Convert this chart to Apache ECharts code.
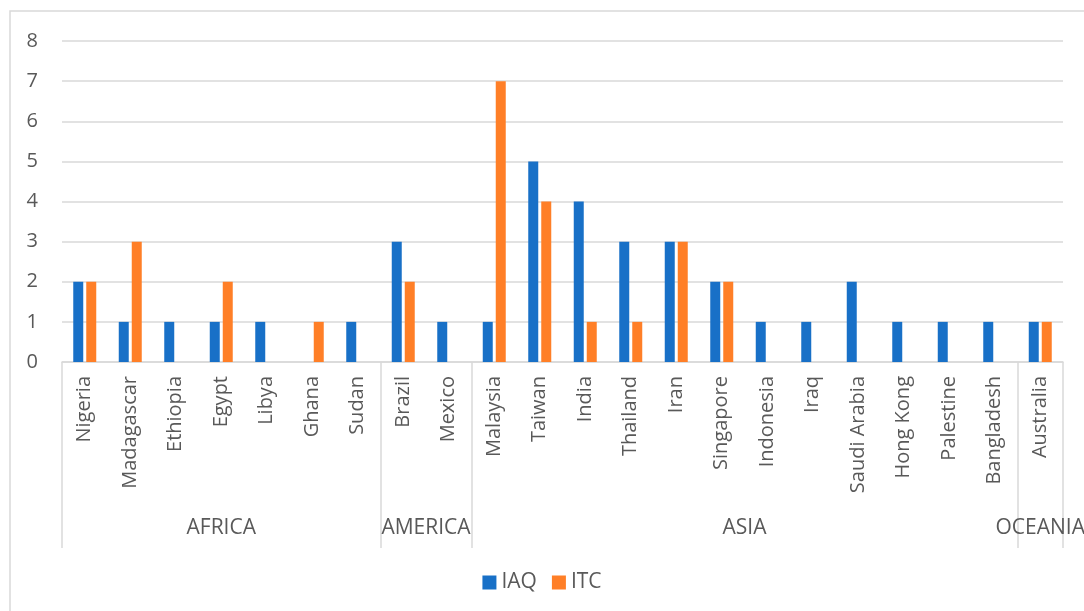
<!DOCTYPE html>
<html>
<head>
<meta charset="utf-8">
<script src="https://cdn.jsdelivr.net/npm/echarts@6/dist/echarts.min.js"></script>
<style>
  html, body { margin: 0; padding: 0; background: #fff; }
  #chart { width: 1084px; height: 611px; }
</style>
</head>
<body>
<div id="chart"></div>
<script>
var countries = ['Nigeria', 'Madagascar', 'Ethiopia', 'Egypt', 'Libya', 'Ghana', 'Sudan',
  'Brazil', 'Mexico',
  'Malaysia', 'Taiwan', 'India', 'Thailand', 'Iran', 'Singapore', 'Indonesia', 'Iraq',
  'Saudi Arabia', 'Hong Kong', 'Palestine', 'Bangladesh',
  'Australia']
var regions = ['AFRICA', 'AMERICA', 'ASIA', 'OCEANIA']
var regionSizes = [7, 2, 12, 1]
var iaq = [2, 1, 1, 1, 1, 0, 1, 3, 1, 1, 5, 4, 3, 3, 2, 1, 1, 2, 1, 1, 1, 1]
var itc = [2, 3, 0, 2, 0, 1, 0, 2, 0, 7, 4, 1, 1, 3, 2, 0, 0, 0, 0, 0, 0, 1]
var yTicks = [0, 1, 2, 3, 4, 5, 6, 7, 8]

// group boundaries and label centres on a 0..n value scale
var bounds = [0]
var centres = []
regionSizes.forEach(function (n, i) {
  var start = bounds[bounds.length - 1]
  centres.push(start + n / 2)
  bounds.push(start + n)
})

var font = '"Open Sans", "Noto Sans", sans-serif'
var grey = '#595959'
var lineGrey = '#d9d9d9'

var chart = echarts.init(document.getElementById('chart'))
chart.setOption({
  animation: false,
  textStyle: { fontFamily: font },
  graphic: [{
    type: 'rect',
    shape: { x: 10, y: 11, width: 1100, height: 640 },
    style: { fill: 'none', stroke: lineGrey, lineWidth: 1.5 },
    silent: true
  }],
  grid: { left: 62, right: 21, top: 41, bottom: 249, outerBoundsMode: 'none' },
  legend: {
    bottom: 13,
    left: 'center',
    icon: 'rect',
    itemWidth: 14,
    itemHeight: 14,
    itemGap: 15,
    textStyle: { fontSize: 21, color: grey, fontFamily: font }
  },
  xAxis: [{
    type: 'category',
    data: countries,
    axisLine: { lineStyle: { color: lineGrey, width: 1.5 } },
    axisTick: { show: false },
    axisLabel: { rotate: 90, margin: 14, fontSize: 20, color: grey, interval: 0 }
  }, {
    type: 'value',
    min: 0,
    max: countries.length,
    position: 'bottom',
    axisLine: { show: false },
    splitLine: { show: false },
    axisTick: {
      show: true,
      customValues: bounds,
      length: 186,
      lineStyle: { color: lineGrey, width: 1.5 }
    },
    axisLabel: {
      customValues: centres,
      margin: 156,
      fontSize: 21,
      color: grey,
      formatter: function (v) {
        return regions[centres.indexOf(v)]
      }
    }
  }],
  yAxis: {
    type: 'value',
    min: yTicks[0],
    max: yTicks[yTicks.length - 1],
    interval: 1,
    axisLine: { show: false },
    axisTick: { show: false },
    axisLabel: { fontSize: 20, color: grey, margin: 24 },
    splitLine: { lineStyle: { color: lineGrey, width: 1.5 } }
  },
  series: [{
    name: 'IAQ',
    type: 'bar',
    data: iaq,
    barWidth: 10,
    barGap: '30%',
    itemStyle: { color: '#1870c7' }
  }, {
    name: 'ITC',
    type: 'bar',
    data: itc,
    barWidth: 10,
    barGap: '30%',
    itemStyle: { color: '#ff7f27' }
  }]
})
</script>
</body>
</html>
